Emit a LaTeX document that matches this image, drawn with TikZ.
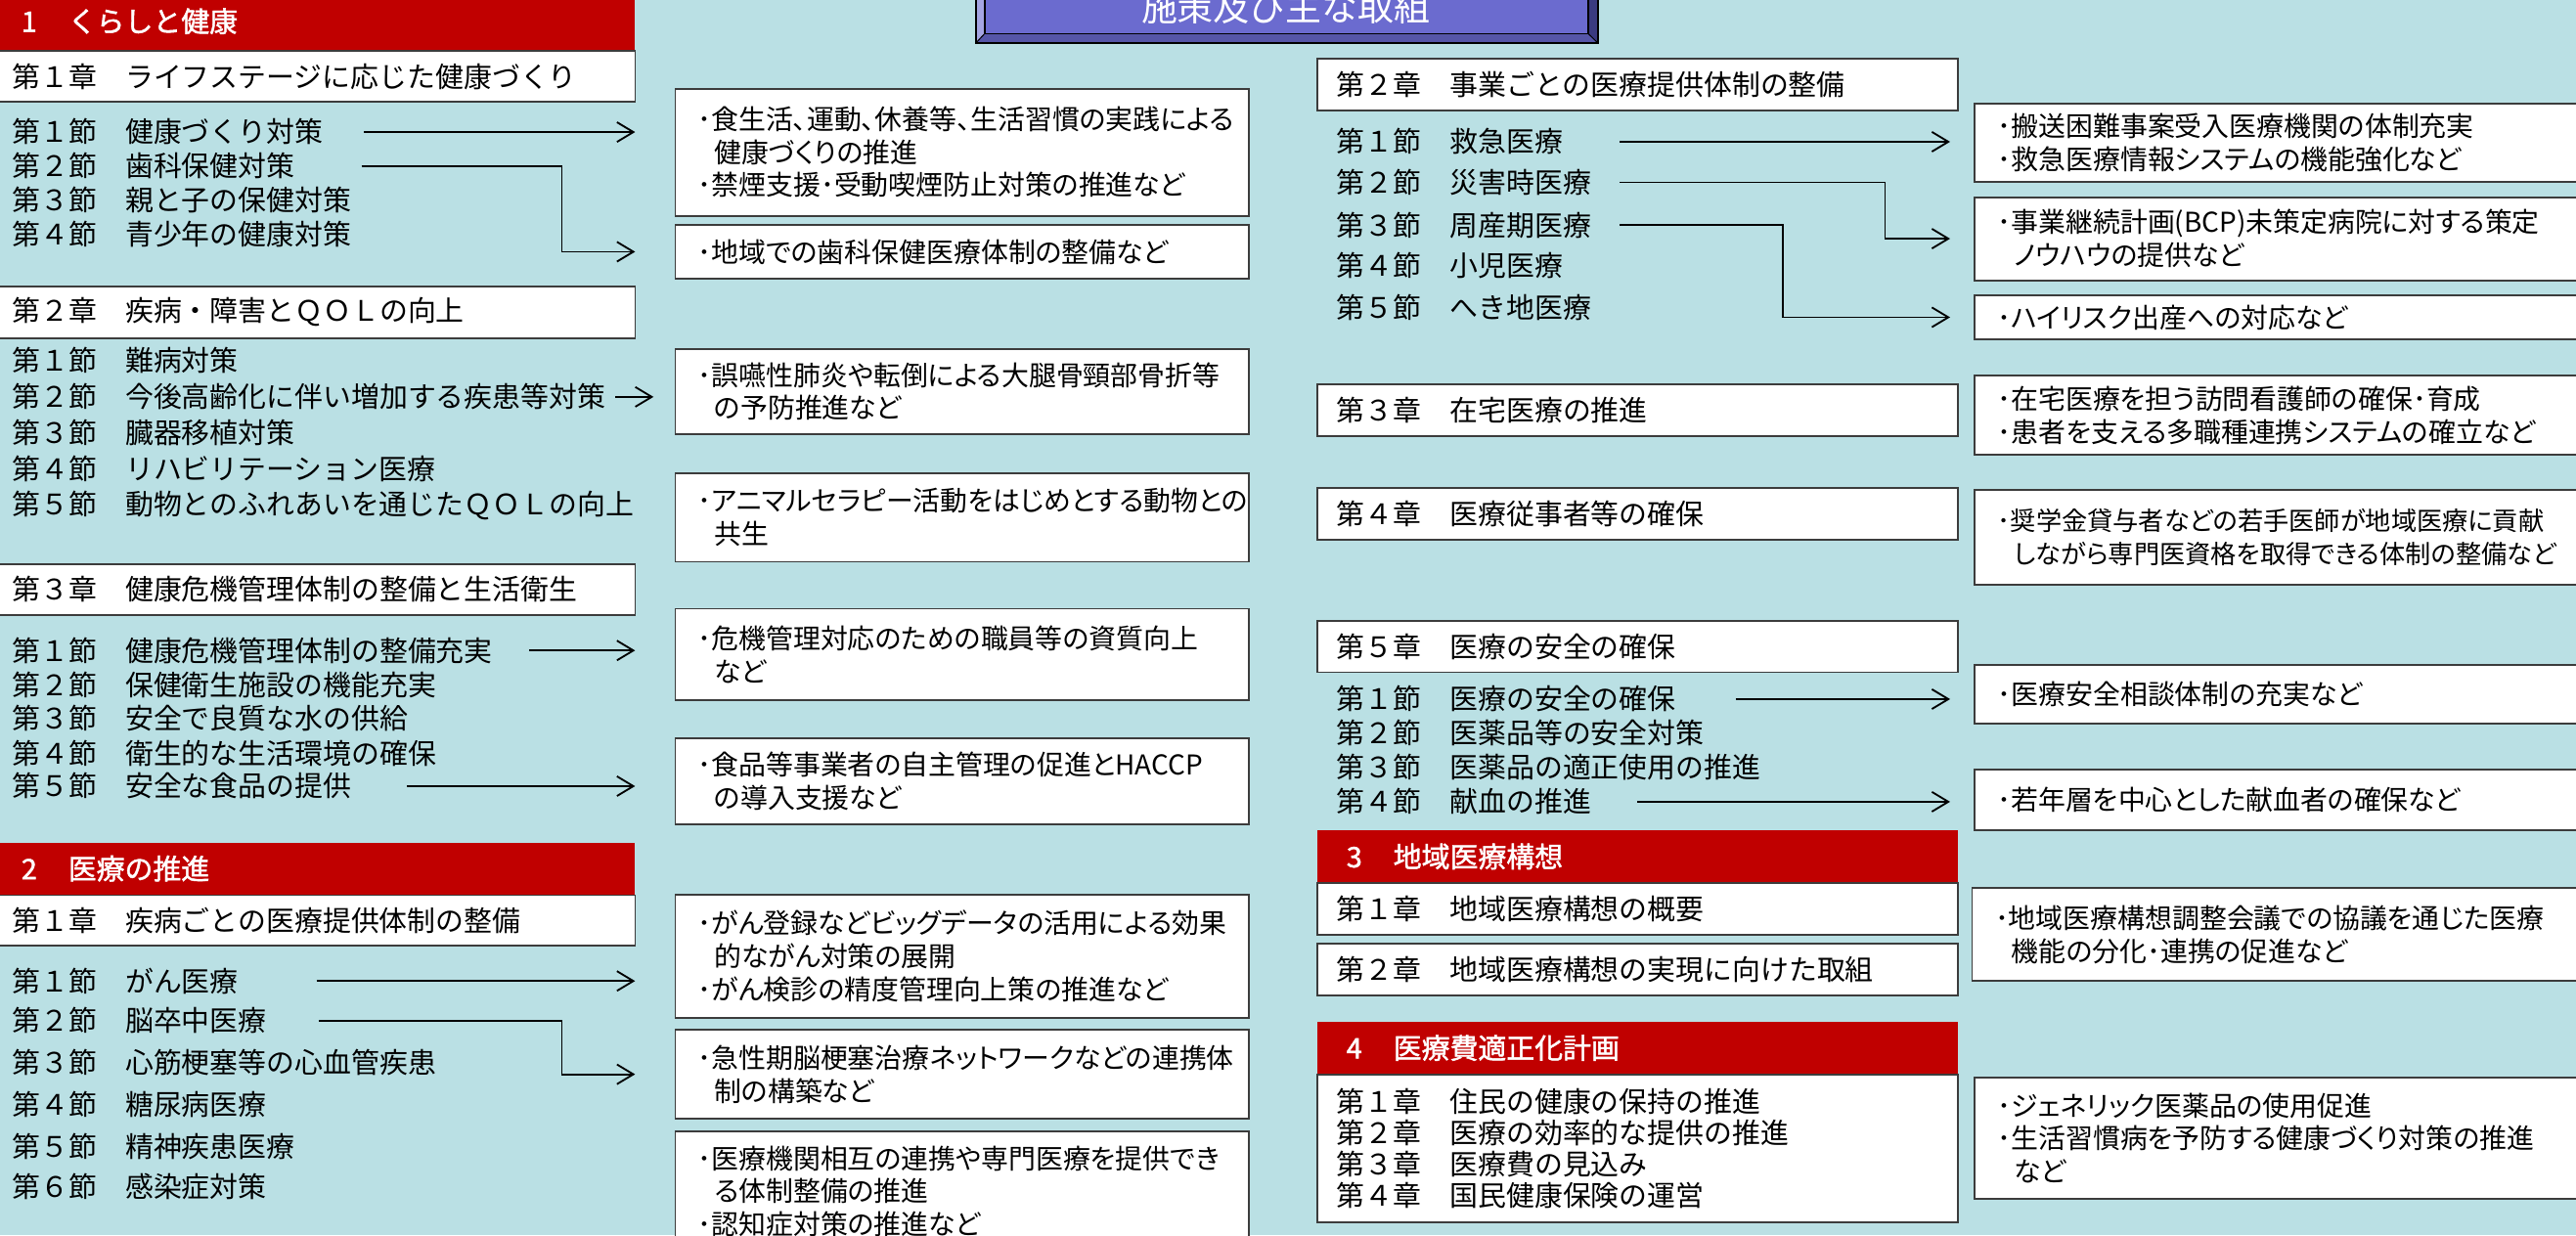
\documentclass[tikz,border=0pt]{standalone}
\usepackage{fontspec}
\setmainfont{Noto Sans CJK JP}
\newfontfamily\polfont{Noto Sans CJK JP}[RawFeature=+palt]
\newfontfamily\hdfont{Noto Sans CJK JP}[FakeBold=1.5]
\usetikzlibrary{arrows.meta}
\definecolor{bgblue}{RGB}{186,224,228}
\definecolor{hdred}{RGB}{192,0,0}
\definecolor{boxline}{RGB}{60,60,60}
\definecolor{titleface}{RGB}{107,107,207}
\definecolor{titlelite}{RGB}{165,165,226}
\definecolor{titledark}{RGB}{86,86,168}
\definecolor{titleshade}{RGB}{58,58,128}
\newcommand{\secsize}{\fontsize{17.2}{19}\selectfont}
\newcommand{\polsize}{\polfont\fontsize{16.6}{20}\selectfont}

\begin{document}
\begin{tikzpicture}[x=1pt,y=-1pt,
  every node/.style={inner sep=0pt,outer sep=0pt},
  hdr/.style={fill=hdred,text=white,anchor=north west,align=left,font=\hdfont\secsize},
  lhdr/.style={hdr,text width=358.6pt,inner xsep=15pt},
  rhdr/.style={hdr,text width=354.4pt,inner xsep=18pt},
  chap/.style={draw=boxline,line width=1.1pt,fill=white,anchor=north west,align=left,font=\secsize},
  lchap/.style={chap,text width=369.6pt,inner xsep=9.5pt},
  rchap/.style={chap,text width=366.2pt,inner xsep=12.1pt},
  sect/.style={anchor=west,font=\secsize,text height=15.1pt,text depth=2.1pt},
  pol/.style={draw=boxline,line width=1.1pt,fill=white,anchor=north west,align=left,font=\polsize,text width=321.4pt,inner xsep=13.8pt},
  rpol/.style={pol,text width=370pt,inner xsep=14pt},
  arr/.style={-{Straight Barb[length=10pt,width=12pt]},line width=1.1pt}]

  \useasboundingbox (0,0) rectangle (1568,752);
  \clip (0,0) rectangle (1568,752);
  \fill[bgblue] (0,0) rectangle (1568,752);

  \fill[titlelite] (594,-25) -- (594,26.2) -- (599.4,20.4) -- (599.4,-25) -- cycle;
  \fill[titledark] (594,26.2) -- (972.6,26.2) -- (966.7,20.4) -- (599.4,20.4) -- cycle;
  \fill[titleshade] (972.6,-25) -- (972.6,26.2) -- (966.7,20.4) -- (966.7,-25) -- cycle;
  \node[fill=titleface,draw=black,line width=0.7pt,anchor=south west,minimum width=367.3pt,minimum height=50pt] (title) at (599.4,20.4) {};
  \draw[line width=1.2pt] (594,-25) -- (594,26.2) -- (972.6,26.2) -- (972.6,-25);
  \draw[line width=0.6pt] (594,26.2) -- (title.south west) (972.6,26.2) -- (title.south east);
  \node[anchor=base,text=white,font=\fontsize{22}{24}\selectfont] (titletext) at (782.7,13) {施策及び主な取組};

  \node[lhdr,minimum height=35.8pt] (h1) at (-2,-5) {1\hspace{19pt}くらしと健康};
  \node[lchap,minimum height=30.8pt] (c1) at (-2,31.1) {第１章　ライフステージに応じた健康づくり};
  \node[sect] (s1-1) at (7.5,80.4) {第１節　健康づくり対策};
  \node[sect] (s1-2) at (7.5,101.2) {第２節　歯科保健対策};
  \node[sect] (s1-3) at (7.5,122) {第３節　親と子の保健対策};
  \node[sect] (s1-4) at (7.5,142.5) {第４節　青少年の健康対策};
  \node[pol,minimum height=77.4pt] (p1) at (411,54) {･食生活、運動、休養等、生活習慣の実践による\\\hspace*{10pt}健康づくりの推進\\･禁煙支援･受動喫煙防止対策の推進など};
  \node[pol,minimum height=32.7pt] (p2) at (411,136.9) {･地域での歯科保健医療体制の整備など};

  \node[lchap,minimum height=31.7pt] (c2) at (-2,174.3) {第２章　疾病・障害とＱＯＬの向上};
  \node[sect] (s2-1) at (7.5,219.6) {第１節　難病対策};
  \node[sect] (s2-2) at (7.5,241.6) {第２節　今後高齢化に伴い増加する疾患等対策};
  \node[sect] (s2-3) at (7.5,263.7) {第３節　臓器移植対策};
  \node[sect] (s2-4) at (7.5,285.7) {第４節　リハビリテーション医療};
  \node[sect] (s2-5) at (7.5,307.2) {第５節　動物とのふれあいを通じたＱＯＬの向上};
  \node[pol,minimum height=52pt] (p3) at (411,212.3) {･誤嚥性肺炎や転倒による大腿骨頸部骨折等\\\hspace*{10pt}の予防推進など};
  \node[pol,minimum height=54pt] (p4) at (411,288) {･アニマルセラピー活動をはじめとする動物との\\\hspace*{10pt}共生};

  \node[lchap,minimum height=30.5pt] (c3) at (-2,343.7) {第３章　健康危機管理体制の整備と生活衛生};
  \node[sect] (s3-1) at (7.5,396) {第１節　健康危機管理体制の整備充実};
  \node[sect] (s3-2) at (7.5,416.9) {第２節　保健衛生施設の機能充実};
  \node[sect] (s3-3) at (7.5,437.4) {第３節　安全で良質な水の供給};
  \node[sect] (s3-4) at (7.5,458.8) {第４節　衛生的な生活環境の確保};
  \node[sect] (s3-5) at (7.5,478.6) {第５節　安全な食品の提供};
  \node[pol,minimum height=55.8pt] (p5) at (411,370.6) {･危機管理対応のための職員等の資質向上\\\hspace*{10pt}など};
  \node[pol,minimum height=52.3pt] (p6) at (411,449.5) {･食品等事業者の自主管理の促進とHACCP\\\hspace*{10pt}の導入支援など};

  \node[lhdr,minimum height=31.7pt] (h2) at (-2,512.9) {2\hspace{19pt}医療の推進};
  \node[lchap,minimum height=30.5pt] (c4) at (-2,545) {第１章　疾病ごとの医療提供体制の整備};
  \node[sect] (s4-1) at (7.5,597.2) {第１節　がん医療};
  \node[sect] (s4-2) at (7.5,621.4) {第２節　脳卒中医療};
  \node[sect] (s4-3) at (7.5,646.8) {第３節　心筋梗塞等の心血管疾患};
  \node[sect] (s4-4) at (7.5,672.2) {第４節　糖尿病医療};
  \node[sect] (s4-5) at (7.5,697.8) {第５節　精神疾患医療};
  \node[sect] (s4-6) at (7.5,722.6) {第６節　感染症対策};
  \node[pol,minimum height=75pt] (p7) at (411,544.6) {･がん登録などビッグデータの活用による効果\\\hspace*{10pt}的ながん対策の展開\\･がん検診の精度管理向上策の推進など};
  \node[pol,minimum height=54pt] (p8) at (411,627) {･急性期脳梗塞治療ネットワークなどの連携体\\\hspace*{10pt}制の構築など};
  \node[pol,minimum height=73.5pt] (p9) at (411,688.5) {･医療機関相互の連携や専門医療を提供でき\\\hspace*{10pt}る体制整備の推進\\･認知症対策の推進など};

  \node[rchap,minimum height=31.4pt] (rc2) at (801.6,35.7) {第２章　事業ごとの医療提供体制の整備};
  \node[sect] (rs2-1) at (813.7,86.3) {第１節　救急医療};
  \node[sect] (rs2-2) at (813.7,111) {第２節　災害時医療};
  \node[sect] (rs2-3) at (813.7,137) {第３節　周産期医療};
  \node[sect] (rs2-4) at (813.7,161.7) {第４節　小児医療};
  \node[sect] (rs2-5) at (813.7,187.5) {第５節　へき地医療};
  \node[rpol,minimum height=47.6pt] (rp1) at (1202,63.1) {･搬送困難事案受入医療機関の体制充実\\･救急医療情報システムの機能強化など};
  \node[rpol,minimum height=50.6pt] (rp2) at (1202,120) {･事業継続計画(BCP)未策定病院に対する策定\\\hspace*{10pt}ノウハウの提供など};
  \node[rpol,minimum height=27.1pt] (rp3) at (1202,179.6) {･ハイリスク出産への対応など};

  \node[rchap,minimum height=31.7pt] (rc3) at (801.6,233.8) {第３章　在宅医療の推進};
  \node[rpol,minimum height=48.4pt] (rp4) at (1202,228.6) {･在宅医療を担う訪問看護師の確保･育成\\･患者を支える多職種連携システムの確立など};
  \node[rchap,minimum height=31.6pt] (rc4) at (801.6,296.8) {第４章　医療従事者等の確保};
  \node[rpol,minimum height=58pt,font=\polfont\fontsize{15.6}{20}\selectfont] (rp5) at (1202,298) {･奨学金貸与者などの若手医師が地域医療に貢献\\\hspace*{10pt}しながら専門医資格を取得できる体制の整備など};

  \node[rchap,minimum height=31.3pt] (rc5) at (801.6,378) {第５章　医療の安全の確保};
  \node[sect] (rs5-1) at (813.7,425.6) {第１節　医療の安全の確保};
  \node[sect] (rs5-2) at (813.7,446.4) {第２節　医薬品等の安全対策};
  \node[sect] (rs5-3) at (813.7,467.3) {第３節　医薬品の適正使用の推進};
  \node[sect] (rs5-4) at (813.7,488.1) {第４節　献血の推進};
  \node[rpol,minimum height=35.7pt] (rp6) at (1202,404.8) {･医療安全相談体制の充実など};
  \node[rpol,minimum height=37.3pt] (rp7) at (1202,468.3) {･若年層を中心とした献血者の確保など};

  \node[rhdr,minimum height=31.7pt] (h3) at (801.6,505.6) {3\hspace{19pt}地域医療構想};
  \node[rchap,minimum height=31.2pt] (rc6) at (801.6,537.7) {第１章　地域医療構想の概要};
  \node[rchap,minimum height=31.8pt] (rc7) at (801.6,574.4) {第２章　地域医療構想の実現に向けた取組};
  \node[rpol,minimum height=56.5pt] (rp8) at (1200.4,540.7) {･地域医療構想調整会議での協議を通じた医療\\\hspace*{10pt}機能の分化･連携の促進など};

  \node[rhdr,minimum height=31.8pt] (h4) at (801.6,622) {4\hspace{19pt}医療費適正化計画};
  \node[rchap,minimum height=89.8pt] (rc8) at (801.6,654.2) {第１章　住民の健康の保持の推進\\第２章　医療の効率的な提供の推進\\第３章　医療費の見込み\\第４章　国民健康保険の運営};
  \node[rpol,minimum height=74pt] (rp9) at (1202,655.8) {･ジェネリック医薬品の使用促進\\･生活習慣病を予防する健康づくり対策の推進\\\hspace*{10pt}など};

  \draw[arr] (221.7,0 |- s1-1) -- (c1.east |- s1-1);
  \draw[arr] (220,0 |- s1-2) -| (342,0 |- p2) -- (c1.east |- p2);
  \draw[arr] ([xshift=6pt]s2-2.east) -- ([xshift=-13.2pt]p3.west |- s2-2);
  \draw[arr] (322.3,0 |- s3-1) -- (c3.east |- s3-1);
  \draw[arr] (247.9,0 |- s3-5) -- (c3.east |- s3-5);
  \draw[arr] (192.7,0 |- s4-1) -- (c4.east |- s4-1);
  \draw[arr] (194,0 |- s4-2) -| (342,0 |- p8) -- (c4.east |- p8);
  \draw[arr] (986,0 |- rs2-1) -- ([xshift=-15pt]rp1.west |- rs2-1);
  \draw[arr] (986,0 |- rs2-2) -| (1147.4,0 |- rp2) -- ([xshift=-15pt]rp2.west);
  \draw[arr] (986,0 |- rs2-3) -| (1085,0 |- rp3) -- ([xshift=-15pt]rp3.west);
  \draw[arr] (1056.6,0 |- rs5-1) -- ([xshift=-15pt]rp6.west |- rs5-1);
  \draw[arr] (996.6,0 |- rs5-4) -- ([xshift=-15pt]rp7.west |- rs5-4);
\end{tikzpicture}
\end{document}
